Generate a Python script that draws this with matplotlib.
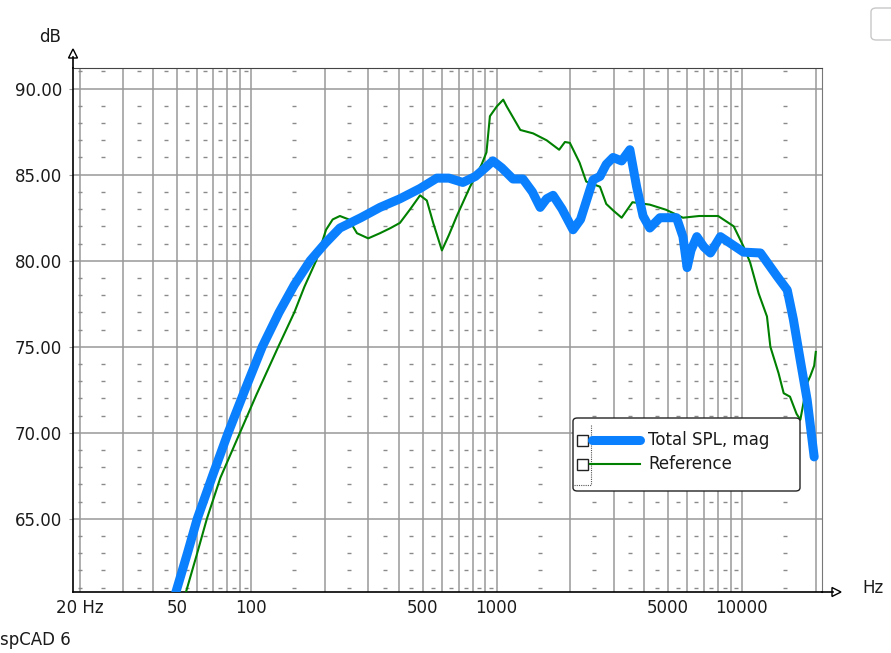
import matplotlib
matplotlib.use('Agg')
import matplotlib.pyplot as plt
from matplotlib.lines import Line2D
from matplotlib.patches import Polygon, FancyBboxPatch, Rectangle

# frequency response data (Hz, dB)
spl_freq = [45, 49.5, 55, 60.3, 70, 80.6, 95, 111, 130, 150, 174, 200, 230, 280,
            335, 404, 488, 571, 640, 729, 820, 900, 967, 1050, 1167, 1281, 1400,
            1506, 1600, 1700, 1850, 2050, 2200, 2474, 2640, 2800, 2985, 3235,
            3494, 3723, 3955, 4213, 4632, 5414, 5750, 5980, 6200, 6550, 7000,
            7440, 8170, 9000, 10150, 11900, 13900, 15300, 16200, 17300, 18450,
            19700]
spl_db = [58.7, 60.8, 63.0, 65.0, 67.6, 70.0, 72.6, 75.0, 77.0, 78.6, 80.0, 81.0,
          81.9, 82.5, 83.1, 83.6, 84.2, 84.8, 84.8, 84.55, 84.9, 85.4, 85.8, 85.4,
          84.75, 84.75, 84.0, 83.1, 83.6, 83.8, 83.0, 81.8, 82.4, 84.7, 84.9,
          85.6, 86.0, 85.8, 86.45, 84.3, 82.6, 81.9, 82.5, 82.5, 81.4, 79.6, 80.6,
          81.4, 80.8, 80.45, 81.4, 81.0, 80.5, 80.45, 79.1, 78.3, 76.6, 74.2,
          71.9, 68.6]

ref_freq = [50, 54.4, 60, 66, 75, 90, 105, 129, 150, 165, 184, 202, 215, 230, 250,
            270, 300, 335, 370, 404, 443, 488, 520, 552, 599, 640, 689, 780, 870,
            910, 940, 1003, 1065, 1100, 1250, 1410, 1600, 1800, 1900, 1990, 2180,
            2320, 2640, 2800, 3000, 3235, 3580, 4213, 4910, 5750, 6700, 8000,
            9260, 10150, 10800, 11700, 12650, 13060, 14100, 14800, 15700, 16700,
            17300, 18450, 19000, 19700, 20000]
ref_db = [58.9, 60.8, 62.9, 65.0, 67.4, 70.0, 72.2, 75.0, 77.0, 78.5, 80.0, 81.8,
          82.4, 82.6, 82.4, 81.6, 81.3, 81.6, 81.9, 82.2, 82.96, 83.8, 83.5, 82.2,
          80.6, 81.5, 82.6, 84.3, 85.6, 86.3, 88.4, 88.97, 89.36, 88.97, 87.6,
          87.4, 87.0, 86.45, 86.9, 86.85, 85.7, 84.6, 84.3, 83.3, 82.9, 82.5,
          83.4, 83.26, 82.96, 82.5, 82.6, 82.6, 82.0, 80.83, 79.9, 78.1, 76.76,
          75.0, 73.47, 72.3, 72.1, 71.1, 70.76, 72.9, 73.3, 73.9, 74.7]

grid_freqs = [20, 30, 40, 50, 60, 70, 80, 90,
              100, 200, 300, 400, 500, 600, 700, 800, 900,
              1000, 2000, 3000, 4000, 5000, 6000, 7000, 8000, 9000,
              10000, 20000]
xtick_vals = [20, 50, 100, 500, 1000, 5000, 10000]
xtick_labels = ['20 Hz', '50', '100', '500', '1000', '5000', '10000']
ytick_vals = [65, 70, 75, 80, 85, 90]

BLUE = '#0a80ff'
GREEN = '#008000'
W, H = 891, 653

fig = plt.figure(figsize=(W / 100, H / 100), dpi=100)
plt.rcParams['font.family'] = 'DejaVu Sans'


def fx(px):
    return px / W


def fy(py):
    return 1 - py / H


ax = fig.add_axes([fx(73), fy(592), fx(822) - fx(73), fy(68) - fy(592)])
ax.set_xscale('log')
ax.set_xlim(18.8, 21200)
ax.set_ylim(60.75, 91.2)

# grid
for f in grid_freqs:
    ax.axvline(f, color='#999999', lw=1.1, zorder=1)
for v in ytick_vals:
    ax.axhline(v, color='#999999', lw=1.1, zorder=1)

# little dotted marks at every 1 dB between the major lines
dash_x = [20] + [(a + b) / 2 for a, b in zip(grid_freqs[:-1], grid_freqs[1:])]
for d in range(61, 92):
    if d % 5 == 0:
        continue
    ax.plot(dash_x, [d] * len(dash_x), ls='none', marker='_', ms=2.2, mew=1,
            color='#8a8a8a', zorder=1)

ax.plot(ref_freq, ref_db, color=GREEN, lw=1.5, zorder=3)
ax.plot(spl_freq, spl_db, color=BLUE, lw=6.5, solid_capstyle='round',
        solid_joinstyle='round', zorder=4)

ax.set_xticks(xtick_vals)
ax.set_xticklabels(xtick_labels)
ax.xaxis.set_minor_locator(matplotlib.ticker.NullLocator())
ax.set_yticks(ytick_vals)
ax.set_yticklabels(['%.2f' % v for v in ytick_vals])
ax.tick_params(axis='x', length=0, pad=5, labelsize=12, labelcolor='#1b1b1b')
ax.tick_params(axis='y', length=3, color='#999999', pad=5, labelsize=12,
               labelcolor='#1b1b1b')

ax.spines['left'].set_color('black')
ax.spines['bottom'].set_color('black')
ax.spines['left'].set_linewidth(1.2)
ax.spines['bottom'].set_linewidth(1.2)
ax.spines['top'].set_color('#444444')
ax.spines['right'].set_color('#777777')

# axis arrows
fig.add_artist(Line2D([fx(73), fx(73)], [fy(68), fy(57)], color='black', lw=1.2))
fig.add_artist(Polygon([(fx(68.5), fy(58)), (fx(77.5), fy(58)), (fx(73), fy(49))],
                       closed=True, facecolor='white', edgecolor='black', lw=1))
fig.add_artist(Line2D([fx(822), fx(833)], [fy(592), fy(592)], color='black', lw=1.2))
fig.add_artist(Polygon([(fx(832), fy(587.5)), (fx(832), fy(596.5)), (fx(841), fy(592))],
                       closed=True, facecolor='white', edgecolor='black', lw=1))

fig.text(fx(50), fy(37), 'dB', ha='center', va='center', fontsize=12, color='#1b1b1b')
fig.text(fx(873), fy(588), 'Hz', ha='center', va='center', fontsize=12, color='#1b1b1b')
fig.text(fx(0), fy(640), 'spCAD 6', ha='left', va='center', fontsize=12, color='#1b1b1b')

# button-like box cut off at the right edge
fig.add_artist(FancyBboxPatch((fx(871), fy(40)), fx(40), fy(8) - fy(40),
                              boxstyle='round,pad=0,rounding_size=0.006',
                              facecolor='white', edgecolor='#c8c8c8', lw=1))

# legend box
fig.add_artist(FancyBboxPatch((fx(573), fy(491)), fx(800) - fx(573), fy(418) - fy(491),
                              boxstyle='round,pad=0,rounding_size=0.005',
                              facecolor='white', edgecolor='#222222', lw=1, zorder=10))
fig.add_artist(Line2D([fx(591), fx(591)], [fy(425), fy(485)], color='#555555',
                      lw=0.8, ls=(0, (1, 1)), zorder=11))
fig.add_artist(Line2D([fx(574), fx(591)], [fy(485), fy(485)], color='#555555',
                      lw=0.8, ls=(0, (1, 1)), zorder=11))
for yy in (440, 464):
    fig.add_artist(Rectangle((fx(577), fy(yy + 5.5)), fx(11), fy(yy - 5.5) - fy(yy + 5.5),
                             facecolor='white', edgecolor='#222222', lw=1, zorder=11))
fig.add_artist(Line2D([fx(592), fx(640)], [fy(440), fy(440)], color=BLUE, lw=6.5,
                      solid_capstyle='round', zorder=11))
fig.add_artist(Line2D([fx(590), fx(640)], [fy(464), fy(464)], color=GREEN, lw=1.5,
                      zorder=11))
fig.text(fx(648), fy(440), 'Total SPL, mag', ha='left', va='center', fontsize=12,
         color='#1b1b1b', zorder=12)
fig.text(fx(648), fy(464), 'Reference', ha='left', va='center', fontsize=12,
         color='#1b1b1b', zorder=12)

fig.savefig('out.png', dpi=100, facecolor='white')
